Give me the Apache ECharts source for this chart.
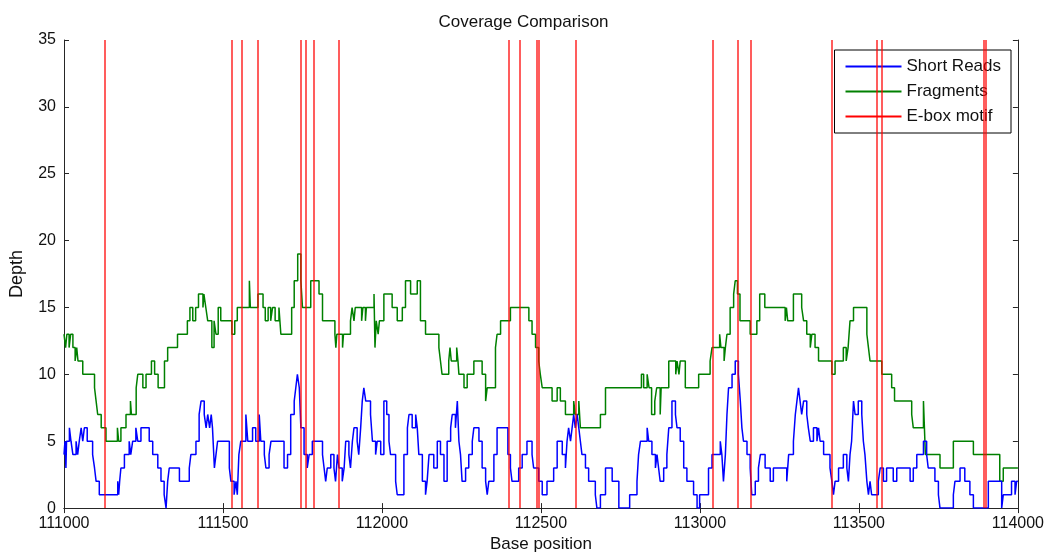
<!DOCTYPE html>
<html>
<head>
<meta charset="utf-8">
<script src="https://cdn.jsdelivr.net/npm/echarts@6/dist/echarts.min.js"></script>
<style>html,body{margin:0;padding:0;background:#fff}#c{width:1047px;height:558px}</style>
</head>
<body>
<div id="c"></div>
<script>
// [base position, depth] change points (stairs)
var shortReads = [
[111000,4],[111003,5],[111006,3],[111008,5],[111017,6],[111022,5],[111028,4],[111038,5],[111043,4],[111048,5],[111054,6],[111059,5],[111064,6],[111073,5],
[111090,4],[111096,3],[111101,2],[111111,1],[111169,2],[111172,1],[111175,2],[111179,3],[111190,4],[111205,5],[111210,4],[111216,5],[111226,6],[111232,5],
[111242,6],[111268,5],[111279,4],[111295,3],[111305,2],[111315,1],[111321,0],[111326,2],[111331,3],[111363,2],[111394,3],[111399,4],[111415,5],[111425,7],
[111431,8],[111441,7],[111447,6],[111452,7],[111458,6],[111463,7],[111467,6],[111473,3],[111478,4],[111483,5],[111520,3],[111525,2],[111535,1],[111541,2],
[111545,1],[111550,4],[111556,5],[111572,7],[111578,5],[111593,6],[111603,5],[111614,7],[111619,5],[111630,4],[111635,3],[111645,4],[111651,5],[111672,5],
[111692,3],[111703,4],[111713,7],[111724,8],[111729,9],[111734,10],[111740,9],[111745,6],[111755,4],[111765,3],[111771,4],[111781,5],[111813,4],[111818,3],
[111823,2],[111828,3],[111839,4],[111849,3],[111854,2],[111860,4],[111865,3],[111875,2],[111881,3],[111886,5],[111896,4],[111901,3],[111907,5],[111912,6],
[111922,5],[111927,4],[111933,6],[111938,8],[111943,9],[111949,8],[111964,7],[111970,5],[111980,4],[111985,5],[111996,4],[112006,8],[112015,7],[112022,5],
[112027,4],[112043,2],[112048,1],[112069,4],[112080,6],[112085,7],[112095,6],[112106,7],[112111,6],[112116,4],[112127,2],[112137,1],[112142,2],[112148,4],
[112163,3],[112174,5],[112184,4],[112195,2],[112205,5],[112216,6],[112221,7],[112231,6],[112237,8],[112242,5],[112247,4],[112252,2],[112263,3],[112273,4],
[112284,5],[112289,6],[112305,5],[112315,3],[112326,2],[112331,1],[112336,2],[112352,4],[112362,6],[112396,4],[112404,3],[112409,2],[112430,3],[112441,4],
[112456,5],[112472,4],[112477,3],[112493,2],[112504,1],[112519,2],[112540,3],[112551,5],[112567,4],[112577,3],[112582,5],[112587,6],[112593,5],[112598,6],
[112603,7],[112608,6],[112614,7],[112619,6],[112624,5],[112629,4],[112640,3],[112650,2],[112671,1],[112676,0],[112687,1],[112703,3],[112724,2],[112745,0],
[112779,1],[112802,2],[112807,4],[112813,5],[112834,6],[112839,5],[112849,4],[112860,3],[112865,4],[112870,3],[112875,2],[112886,3],[112896,4],[112902,6],
[112912,8],[112923,7],[112928,6],[112938,5],[112949,3],[112959,2],[112980,1],[112991,0],[112999,1],[113027,3],[113038,4],[113064,5],[113069,4],[113074,2],
[113080,4],[113085,7],[113090,9],[113101,10],[113111,11],[113121,10],[113127,8],[113132,6],[113137,5],[113148,4],[113158,3],[113163,1],[113174,2],[113184,3],
[113190,4],[113205,3],[113221,2],[113231,3],[113273,2],[113279,4],[113294,5],[113300,7],[113305,8],[113310,9],[113315,8],[113320,7],[113326,8],[113336,7],
[113341,6],[113347,5],[113357,6],[113368,5],[113373,6],[113378,5],[113389,4],[113409,3],[113415,2],[113420,1],[113425,2],[113436,3],[113451,4],[113462,3],
[113467,2],[113472,4],[113477,5],[113483,8],[113488,7],[113498,8],[113509,7],[113514,5],[113519,4],[113525,2],[113530,1],[113535,2],[113540,1],[113561,2],
[113567,3],[113577,2],[113587,3],[113608,2],[113619,3],[113661,2],[113671,3],[113682,4],[113703,5],[113713,4],[113718,3],[113739,2],[113750,1],[113755,0],
[113797,1],[113802,2],[113818,3],[113833,2],[113849,1],[113860,0],[113907,2],[113949,0],[113954,1],[113980,2],[113991,1],[113996,2],[114000,2]
];
var fragments = [
[111000,13],[111005,12],[111009,13],[111016,12],[111021,13],[111028,12],[111035,11],[111040,12],[111044,11],[111059,10],[111096,9],[111101,8],[111106,7],
[111117,6],[111132,5],[111168,6],[111172,5],[111179,6],[111195,7],[111209,8],[111212,7],[111227,9],[111232,10],[111248,9],[111258,10],[111275,11],[111285,10],
[111296,9],[111316,11],[111326,12],[111357,13],[111388,14],[111396,15],[111405,14],[111414,15],[111423,16],[111437,15],[111440,16],[111446,15],[111452,14],
[111465,12],[111472,14],[111478,13],[111485,15],[111493,14],[111528,13],[111537,14],[111545,15],[111583,17],[111586,15],[111610,16],[111626,15],[111633,14],
[111642,15],[111650,14],[111656,15],[111664,14],[111676,15],[111682,13],[111716,15],[111724,17],[111735,19],[111745,17],[111750,15],[111776,17],[111802,16],
[111813,14],[111852,13],[111855,12],[111858,13],[111876,12],[111879,13],[111901,14],[111906,15],[111912,14],[111916,15],[111936,14],[111940,15],[111948,14],
[111951,15],[111975,16],[111978,12],[111982,14],[111988,13],[111992,14],[112006,16],[112032,15],[112048,14],[112064,15],[112074,17],[112090,16],[112111,17],
[112121,14],[112137,13],[112179,12],[112184,11],[112189,10],[112210,11],[112214,12],[112218,11],[112235,12],[112239,11],[112242,10],[112258,9],[112268,10],
[112289,11],[112315,10],[112326,8],[112331,9],[112357,12],[112362,13],[112373,14],[112404,15],[112462,14],[112472,13],[112483,12],[112493,11],[112498,10],
[112504,9],[112535,8],[112551,9],[112561,8],[112577,7],[112603,8],[112608,7],[112619,8],[112624,6],[112687,7],[112703,9],[112816,10],[112823,9],[112834,10],
[112840,9],[112848,7],[112858,8],[112864,9],[112875,7],[112878,9],[112902,11],[112924,10],[112928,11],[112934,10],[112938,11],[112954,9],[112996,10],
[113032,11],[113038,12],[113062,13],[113066,12],[113076,11],[113080,12],[113085,13],[113095,15],[113106,16],[113111,17],[113118,16],[113126,14],[113158,13],
[113179,14],[113188,16],[113204,15],[113268,14],[113272,15],[113276,14],[113294,16],[113320,15],[113326,14],[113336,13],[113347,12],[113352,13],[113362,12],
[113373,11],[113415,10],[113425,11],[113451,12],[113460,11],[113466,12],[113472,14],[113483,15],[113525,13],[113530,12],[113535,11],[113572,10],[113603,9],
[113612,8],[113666,7],[113671,6],[113703,8],[113709,4],[113755,3],[113797,5],[113860,4],[113943,2],[113954,3],[114000,3]
];
var motifPos = [111129,111528,111559,111609,111745,111760,111785,111864,112398,112432,112486,112492,112608,113039,113120,113161,113413,113557,113573,113894,113898];
var xTicks = {min:111000, max:114000, step:500};
var yTicks = {min:0, max:35, step:5};

var chart = echarts.init(document.getElementById('c'), null, {renderer:'canvas'});
var fontFam = 'Liberation Sans, Arial, sans-serif';
var axisBase = {
  axisLine:{show:true, lineStyle:{color:'#262626', width:1}},
  axisTick:{show:true, inside:true, length:5, lineStyle:{color:'#262626'}},
  splitLine:{show:false}
};
chart.setOption({
  animation:false,
  backgroundColor:'#fff',
  title:{text:'Coverage Comparison', left:'center', top:9, textStyle:{fontSize:17, fontWeight:'normal', color:'#111', fontFamily:fontFam}},
  grid:{left:63, right:29, top:40, bottom:48},
  legend:{
    orient:'vertical', right:36, top:50, backgroundColor:'#fff', borderColor:'#000', borderWidth:1,
    padding:[8,10,8,11], itemGap:8, itemWidth:56, itemHeight:2, icon:'rect',
    textStyle:{fontSize:17, color:'#111', fontFamily:fontFam},
    data:['Short Reads','Fragments','E-box motif']
  },
  xAxis:[
    Object.assign({type:'value', min:xTicks.min, max:xTicks.max, interval:xTicks.step, name:'Base position', nameLocation:'middle', nameGap:27,
      nameTextStyle:{fontSize:17, color:'#111', fontFamily:fontFam},
      axisLabel:{fontSize:16, color:'#111', fontFamily:fontFam, margin:7, formatter:function(v){return String(v);}}}, axisBase),
    Object.assign({type:'value', position:'top', min:xTicks.min, max:xTicks.max, interval:xTicks.step, axisLabel:{show:false}}, axisBase)
  ],
  yAxis:[
    Object.assign({type:'value', min:yTicks.min, max:yTicks.max, interval:yTicks.step, name:'Depth', nameLocation:'middle', nameGap:38,
      nameTextStyle:{fontSize:18, color:'#111', fontFamily:fontFam},
      axisLabel:{fontSize:16, color:'#111', fontFamily:fontFam, margin:8}}, axisBase),
    Object.assign({type:'value', position:'right', min:yTicks.min, max:yTicks.max, interval:yTicks.step, axisLabel:{show:false}}, axisBase)
  ],
  series:[
    {name:'Short Reads', type:'line', step:'end', data:shortReads, showSymbol:false, symbol:'none',
     lineStyle:{color:'#0000ff', width:1.5}, itemStyle:{color:'#0000ff'}, z:3},
    {name:'Fragments', type:'line', step:'end', data:fragments, showSymbol:false, symbol:'none',
     lineStyle:{color:'#008000', width:1.5}, itemStyle:{color:'#008000'}, z:2},
    {name:'E-box motif', type:'line', data:[], symbol:'none', color:'#ff0000',
     lineStyle:{color:'#ff0000', width:1.5}, itemStyle:{color:'#ff0000'}, z:4,
     markLine:{silent:true, symbol:['none','none'], label:{show:false}, animation:false,
       lineStyle:{color:'#ff0000', width:1.5, type:'solid', opacity:0.85},
       data:motifPos.map(function(p){return {xAxis:p};})}}
  ]
});
</script>
</body>
</html>
